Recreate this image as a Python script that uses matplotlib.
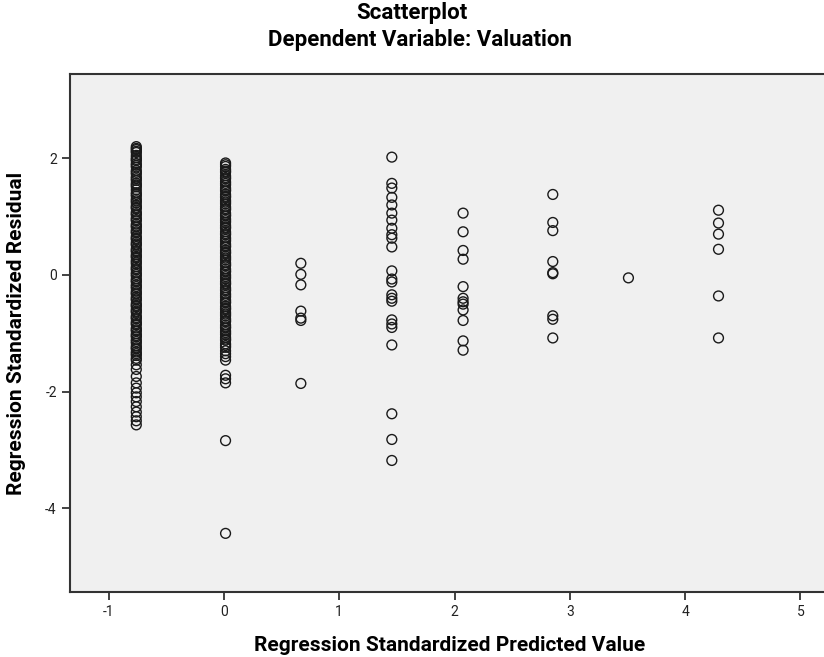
import numpy as np
import matplotlib.pyplot as plt

plt.rcParams['font.family'] = ['Roboto', 'DejaVu Sans']

# predicted value of each column (x) and the residuals (y)
col_x = [-0.76, 0.014, 0.667, 1.456, 2.074, 2.852, 3.508, 4.289]

res_c1 = [2.20, 2.17, 2.15, 2.12, 2.10, 2.05, 2.01, 1.98, 1.96, 1.91, 1.88, 1.85,
          1.79, 1.76, 1.73, 1.68, 1.65, 1.62, 1.57, 1.54, 1.51, 1.46, 1.41, 1.38,
          1.35, 1.30, 1.27, 1.24, 1.19, 1.16, 1.14, 1.08, 1.05, 1.03, 0.98, 0.95,
          0.93, 0.87, 0.84, 0.82, 0.77, 0.74, 0.72, 0.66, 0.63, 0.61, 0.56, 0.53,
          0.51, 0.45, 0.42, 0.40, 0.35, 0.32, 0.30, 0.25, 0.22, 0.19, 0.14, 0.11,
          0.09, 0.04, 0.01, -0.02, -0.07, -0.10, -0.12, -0.17, -0.20, -0.23,
          -0.28, -0.31, -0.33, -0.38, -0.41, -0.43, -0.49, -0.52, -0.54, -0.59,
          -0.62, -0.64, -0.70, -0.73, -0.75, -0.80, -0.83, -0.85, -0.91, -0.94,
          -0.96, -1.01, -1.04, -1.06, -1.11, -1.14, -1.17, -1.22, -1.25, -1.27,
          -1.32, -1.35, -1.38, -1.43, -1.46, -1.54, -1.62, -1.74, -1.85, -1.94,
          -2.02, -2.09, -2.17, -2.26, -2.35, -2.43, -2.50, -2.57]
res_c2 = [1.92, 1.89, 1.86, 1.81, 1.78, 1.76, 1.70, 1.67, 1.65, 1.60, 1.57, 1.54,
          1.49, 1.46, 1.44, 1.38, 1.35, 1.33, 1.28, 1.25, 1.22, 1.17, 1.14, 1.12,
          1.06, 1.03, 1.01, 0.96, 0.93, 0.90, 0.85, 0.82, 0.80, 0.74, 0.71, 0.69,
          0.64, 0.61, 0.58, 0.53, 0.50, 0.48, 0.42, 0.39, 0.37, 0.32, 0.29, 0.26,
          0.21, 0.18, 0.16, 0.10, 0.07, 0.05, 0.00, -0.03, -0.06, -0.11, -0.14,
          -0.16, -0.22, -0.25, -0.27, -0.32, -0.35, -0.38, -0.43, -0.46, -0.48,
          -0.54, -0.57, -0.59, -0.64, -0.67, -0.70, -0.75, -0.78, -0.80, -0.86,
          -0.89, -0.91, -0.96, -0.99, -1.02, -1.07, -1.10, -1.12, -1.18, -1.21,
          -1.24, -1.30, -1.35, -1.40, -1.46, -1.72, -1.78, -1.85, -2.84, -4.43]
res_c3 = [0.20, 0.01, -0.17, -0.62, -0.74, -0.78, -1.86]
res_c4 = [2.02, 1.57, 1.49, 1.33, 1.20, 1.06, 0.94, 0.80, 0.69, 0.63, 0.48, 0.07,
          -0.07, -0.12, -0.34, -0.40, -0.45, -0.77, -0.84, -0.90, -1.20, -2.38,
          -2.82, -3.18]
res_c5 = [1.06, 0.74, 0.42, 0.27, -0.20, -0.40, -0.46, -0.50, -0.60, -0.78, -1.13,
          -1.29]
res_c6 = [1.38, 0.90, 0.76, 0.23, 0.04, 0.02, -0.70, -0.76, -1.08]
res_c7 = [-0.05]
res_c8 = [1.11, 0.89, 0.70, 0.44, -0.36, -1.08]

columns = [res_c1, res_c2, res_c3, res_c4, res_c5, res_c6, res_c7, res_c8]

fig = plt.figure(figsize=(8.24, 6.57), dpi=100)
ax = fig.add_axes([70 / 824, 1 - 592 / 657, 760 / 824, (592 - 74) / 657])
ax.set_facecolor('#f0f0f0')

for xv, ys in zip(col_x, columns):
    ax.scatter([xv] * len(ys), ys, s=50, facecolors='none',
               edgecolors='#1a1a1a', linewidths=1.0)

ax.set_xlim(-1.335, 5.256)
ax.set_ylim(-5.435, 3.445)
ax.set_xticks([-1, 0, 1, 2, 3, 4, 5])
ax.set_yticks([-4, -2, 0, 2])
ax.set_xticklabels(['-1', '0', '1', '2', '3', '4', '5'])
ax.set_yticklabels(['-4', '-2', '0', '2'])
ax.tick_params(direction='out', length=6, width=1.2, labelsize=10, colors='#222222')
for s in ax.spines.values():
    s.set_linewidth(1.5)
    s.set_color('#333333')
ax.spines['right'].set_visible(False)

ax.set_xlabel('Regression Standardized Predicted Value', fontsize=15,
              fontweight='bold', labelpad=12)
ax.set_ylabel('Regression Standardized Residual', fontsize=15,
              fontweight='bold', labelpad=14)

fig.text(0.5, 1 - 13 / 657, 'Scatterplot', ha='center', va='center',
         fontsize=16, fontweight='bold')
fig.text(0.51, 1 - 40 / 657, 'Dependent Variable: Valuation', ha='center',
         va='center', fontsize=16, fontweight='bold')

fig.savefig('out.png', dpi=100, facecolor='white')
